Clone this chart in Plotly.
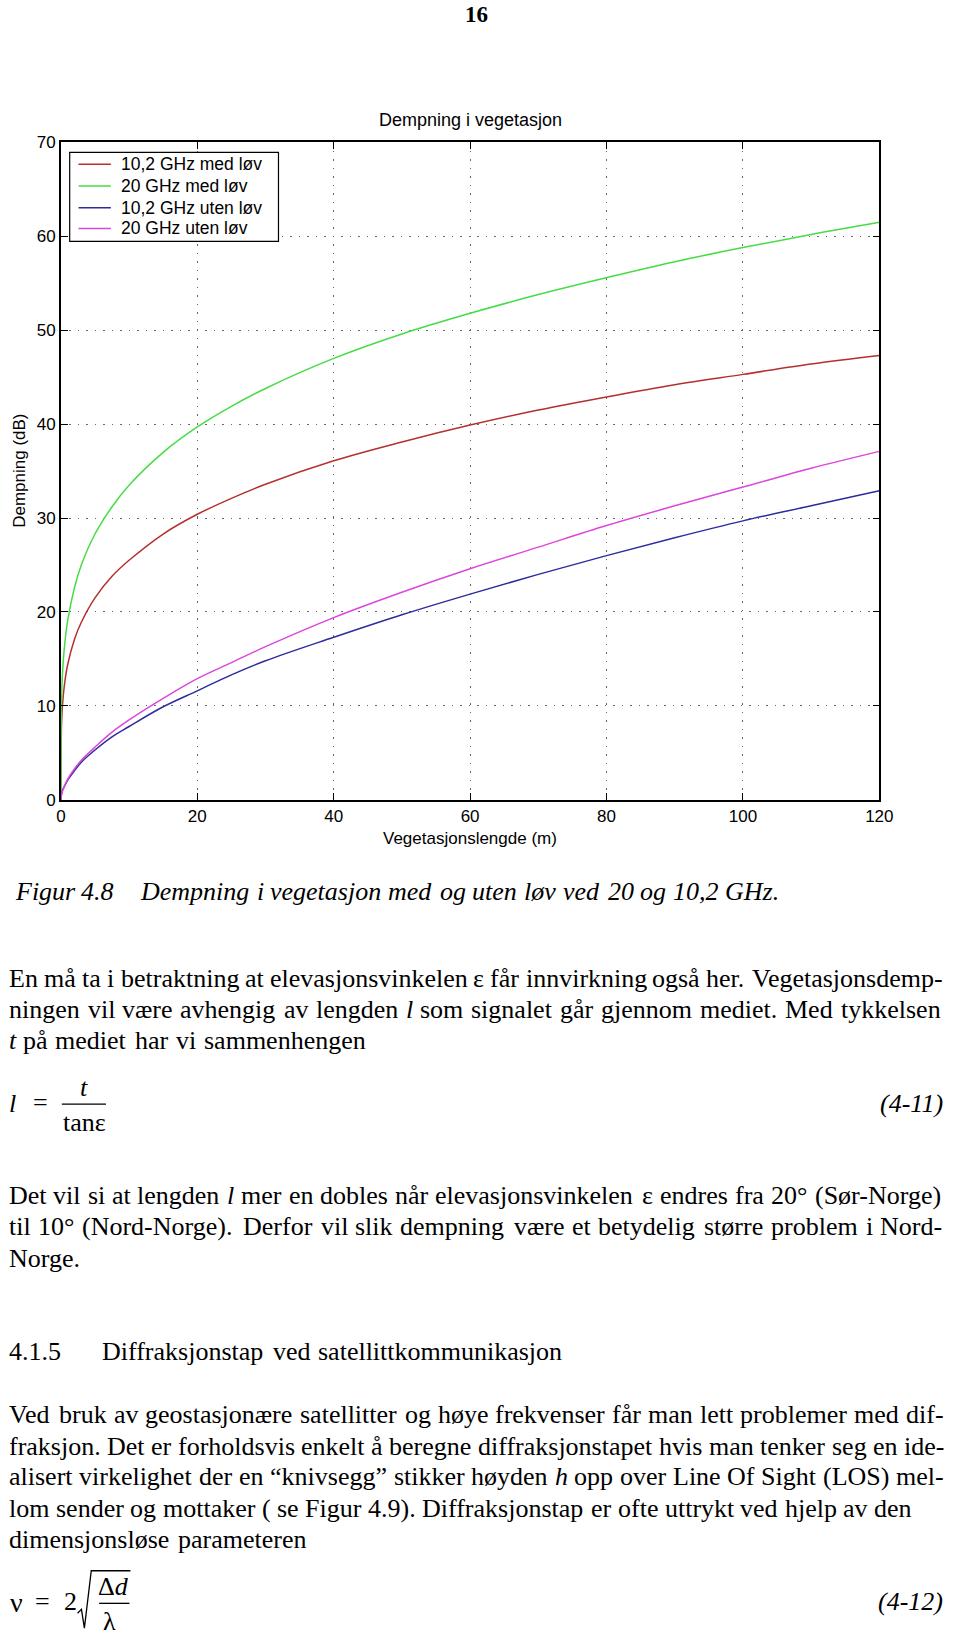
import plotly.graph_objects as go

W, H = 960, 1643

# ---------------- data ----------------
veg_length = [0, 0.1, 0.25, 0.5, 1, 2, 3, 5, 7.5, 10, 15, 20, 25, 30, 40, 50, 60, 70, 80, 90, 100, 110, 120]
f10_med = [0, 8.1, 10.2, 12.1, 14.4, 17.1, 18.9, 21.5, 23.8, 25.5, 28.3, 30.4, 32.1, 33.6, 36.1, 38.1, 39.9, 41.5, 42.9, 44.2, 45.3, 46.4, 47.3]
f20_med = [0, 10.9, 13.6, 16.1, 19.1, 22.6, 25.0, 28.3, 31.2, 33.5, 37.0, 39.7, 41.9, 43.8, 47.0, 49.6, 51.8, 53.8, 55.6, 57.3, 58.8, 60.2, 61.5]
f10_uten = [0, 0.6, 1.0, 1.4, 2.1, 3.1, 4.0, 5.3, 6.7, 7.8, 9.9, 11.6, 13.3, 14.8, 17.3, 19.7, 21.9, 24.0, 26.0, 27.9, 29.7, 31.3, 32.9]
f20_uten = [0, 0.55, 0.95, 1.4, 2.2, 3.3, 4.2, 5.6, 7.2, 8.5, 10.8, 12.9, 14.6, 16.3, 19.4, 22.1, 24.6, 26.9, 29.2, 31.3, 33.3, 35.3, 37.1]

series_names = ["10,2 GHz med løv", "20 GHz med løv", "10,2 GHz uten løv", "20 GHz uten løv"]
series_colors = ["#b4302f", "#46dc46", "#2c2c9c", "#dc46dc"]

x_ticks = [0, 20, 40, 60, 80, 100, 120]
y_ticks = [0, 10, 20, 30, 40, 50, 60, 70]

chart_title = "Dempning i vegetasjon"
x_title = "Vegetasjonslengde (m)"
y_title = "Dempning (dB)"

# ---------------- page text ----------------
page_number = "16"
caption_label = "Figur 4.8"
caption_text = "Dempning i vegetasjon med og uten løv ved 20 og 10,2 GHz."
para1 = [
    "En må ta i betraktning at elevasjonsvinkelen ε får innvirkning også her. Vegetasjonsdemp-",
    "ningen vil være avhengig av lengden _l_ som signalet går gjennom mediet. Med tykkelsen",
    "_t_ på mediet har vi sammenhengen",
]
para2 = [
    "Det vil si at lengden _l_ mer en dobles når elevasjonsvinkelen ε endres fra 20° (Sør-Norge)",
    "til 10° (Nord-Norge). Derfor vil slik dempning være et betydelig større problem i Nord-",
    "Norge.",
]
heading_num = "4.1.5"
heading_text = "Diffraksjonstap ved satellittkommunikasjon"
para3 = [
    "Ved bruk av geostasjonære satellitter og høye frekvenser får man lett problemer med dif-",
    "fraksjon. Det er forholdsvis enkelt å beregne diffraksjonstapet hvis man tenker seg en ide-",
    "alisert virkelighet der en “knivsegg” stikker høyden _h_ opp over Line Of Sight (LOS) mel-",
    "lom sender og mottaker ( se Figur 4.9). Diffraksjonstap er ofte uttrykt ved hjelp av den",
    "dimensjonsløse parameteren",
]

# ---------------- helpers ----------------
def px(x):
    return x / W

def py(y):
    return 1 - y / H

TW = {' ': 250, '.': 250, ',': 250, '-': 333, '(': 333, ')': 333, '°': 400, '“': 444, '”': 444,
      'a': 444, 'b': 500, 'c': 444, 'd': 500, 'e': 444, 'f': 333, 'g': 500, 'h': 500, 'i': 278,
      'j': 278, 'k': 500, 'l': 278, 'm': 778, 'n': 500, 'o': 500, 'p': 500, 'q': 500, 'r': 333,
      's': 389, 't': 278, 'u': 500, 'v': 500, 'w': 722, 'x': 500, 'y': 500, 'z': 444,
      'å': 444, 'ø': 500, 'æ': 667, 'ε': 440,
      'A': 722, 'B': 667, 'C': 667, 'D': 722, 'E': 611, 'F': 556, 'G': 722, 'H': 722, 'I': 333,
      'J': 389, 'K': 722, 'L': 611, 'M': 889, 'N': 722, 'O': 722, 'P': 556, 'Q': 722, 'R': 667,
      'S': 556, 'T': 611, 'U': 722, 'V': 722, 'W': 944, 'X': 722, 'Y': 722, 'Z': 611}

def tw(s):
    return sum(TW.get(c, 500) for c in s) / 1000.0

SERIF = "Liberation Serif, Times New Roman, serif"
SANS = "Liberation Sans, Arial, sans-serif"
BODY = 26

annotations = []
shapes = []

def txt(x, y, s, size=BODY, family=SERIF, xanchor="left", italic=False, bold=False, angle=0,
        color="black", yanchor="middle"):
    if italic:
        s = "<i>" + s + "</i>"
    if bold:
        s = "<b>" + s + "</b>"
    annotations.append(dict(x=px(x), y=py(y), xref="paper", yref="paper", text=s, showarrow=False,
                            xanchor=xanchor, yanchor=yanchor, textangle=angle, borderpad=0,
                            font=dict(family=family, size=size, color=color)))

def place_line(line, left, right, y, size=BODY, italic_all=False):
    words = line.split(" ")
    starts = []
    pos = 0.0
    for w in words:
        clean = w.strip("_") if (w.startswith("_") and w.endswith("_") and len(w) > 2) else w
        starts.append(pos)
        pos += tw(clean) + 0.25
    total = pos - 0.25
    scale = (right - left) / total
    for w, s0 in zip(words, starts):
        it = italic_all
        clean = w
        if w.startswith("_") and w.endswith("_") and len(w) > 2:
            it = True
            clean = w[1:-1]
        txt(left + s0 * scale, y, clean, size=size, italic=it)

# ---------------- chart ----------------
fig = go.Figure()
for name, col, ys in zip(series_names, series_colors, [f10_med, f20_med, f10_uten, f20_uten]):
    fig.add_trace(go.Scatter(x=veg_length, y=ys, mode="lines", name=name, showlegend=False,
                             line=dict(color=col, width=1.5, shape="spline", smoothing=1.0)))

PL, PR, PT, PB = 57, 892, 135, 800

axis_common = dict(showline=True, linecolor="black", linewidth=1.5, mirror="ticks",
                   ticks="inside", ticklen=7, tickwidth=1.3, tickcolor="black",
                   showgrid=True, gridcolor="#666666", gridwidth=1, griddash="1.5px,7px",
                   zeroline=False, tickfont=dict(family=SANS, size=17, color="black"))

fig.update_xaxes(range=[0, 120], tickvals=x_ticks, ticktext=[str(v) for v in x_ticks],
                 domain=[px(PL), px(PR)], **axis_common)
fig.update_yaxes(range=[0, 70], tickvals=y_ticks, ticktext=[str(v) for v in y_ticks],
                 domain=[py(PB), py(PT)], **axis_common)

txt((PL + PR) / 2, 112, chart_title, size=18, family=SANS, xanchor="center")
txt((PL + PR) / 2, 839, x_title, size=17, family=SANS, xanchor="center")
txt(14, (PT + PB) / 2, y_title, size=17, family=SANS, xanchor="center", angle=-90)

# legend box (drawn as paper-space decoration)
LG_L, LG_R, LG_T, LG_B = 66, 279, 145, 235
shapes.append(dict(type="rect", xref="paper", yref="paper", x0=px(LG_L), x1=px(LG_R), y0=py(LG_B), y1=py(LG_T),
                   fillcolor="white", line=dict(color="black", width=1.2), layer="above"))
legend_rows = [157, 179, 201, 222]
for name, col, ry in zip(series_names, series_colors, legend_rows):
    shapes.append(dict(type="line", xref="paper", yref="paper", x0=px(75), x1=px(108), y0=py(ry), y1=py(ry),
                       line=dict(color=col, width=1.5), layer="above"))
    txt(117, ry, name, size=17.5, family=SANS, xanchor="left")

# ---------------- page text ----------------
txt(481, 6, page_number, size=23, bold=True, xanchor="center")

place_line(caption_label, 9, 111, 893, italic_all=True)
place_line(caption_text, 137, 790, 893, italic_all=True)

p1_y = [981, 1012, 1044]
p1_right = [957, 955, 372]
for line, yy, rr in zip(para1, p1_y, p1_right):
    place_line(line, 3, rr, yy)

# equation (4-11)
txt(8, 1107, "l", size=26, italic=True, xanchor="center")
txt(36, 1106, "=", size=26, xanchor="center")
txt(81, 1091, "t", size=26, italic=True, xanchor="center")
shapes.append(dict(type="line", xref="paper", yref="paper", x0=px(58), x1=px(103), y0=py(1108), y1=py(1108),
                   line=dict(color="black", width=1.3)))
txt(81, 1127, "tanε", size=26, xanchor="center")
txt(958, 1107, "(4-11)", size=26, italic=True, xanchor="right")

p2_y = [1200, 1232, 1264]
p2_right = [956, 957, 75]
for line, yy, rr in zip(para2, p2_y, p2_right):
    place_line(line, 3, rr, yy)

place_line(heading_num, 3, 58, 1358)
place_line(heading_text, 98, 571, 1358)

p3_y = [1422, 1454, 1485, 1517, 1548]
p3_right = [957, 957, 957, 924, 309]
for line, yy, rr in zip(para3, p3_y, p3_right):
    place_line(line, 3, rr, yy)

# equation (4-12)
txt(12, 1612, "ν", size=28, xanchor="center")
txt(38, 1611, "=", size=26, xanchor="center")
txt(67, 1611, "2", size=26, xanchor="center")
shapes.append(dict(type="path", xref="paper", yref="paper",
                   path="M %f,%f L %f,%f L %f,%f L %f,%f L %f,%f" % (
                       px(74), py(1623), px(78), py(1619), px(81), py(1638), px(88), py(1580), px(128), py(1580)),
                   line=dict(color="black", width=1.3)))
txt(111, 1596, "Δ<i>d</i>", size=26, xanchor="center")
shapes.append(dict(type="line", xref="paper", yref="paper", x0=px(96), x1=px(127), y0=py(1613), y1=py(1613),
                   line=dict(color="black", width=1.3)))
txt(107, 1631, "λ", size=26, xanchor="center")
txt(958, 1611, "(4-12)", size=26, italic=True, xanchor="right")

fig.update_layout(
    width=W, height=H, margin=dict(l=0, r=0, t=0, b=0),
    paper_bgcolor="white", plot_bgcolor="white",
    showlegend=False,
    annotations=annotations, shapes=shapes,
)

fig.write_html("out.html")
